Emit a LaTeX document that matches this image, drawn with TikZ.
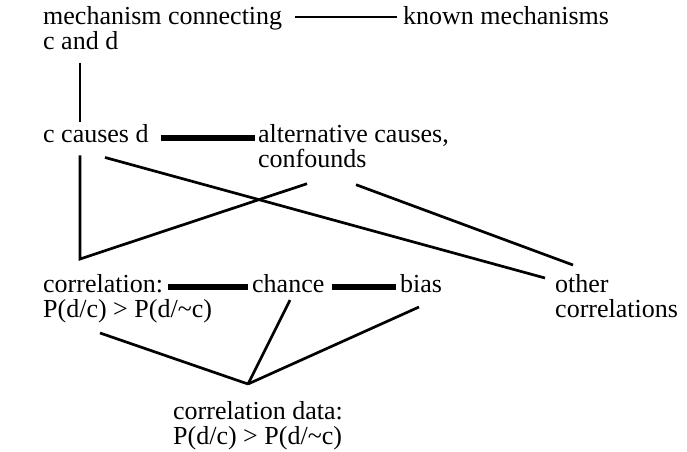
\documentclass[tikz,border=0pt]{standalone}
\usepackage{fontspec}
\setmainfont{Liberation Serif}

\begin{document}
\begin{tikzpicture}[x=1pt, y=-1pt,
  txt/.style={inner sep=0pt, font=\fontsize{26}{25}\selectfont},
  multi/.style={txt, align=left, anchor=north west},
  one/.style={txt, anchor=base west},
  link/.style={line width=2.7pt},
  bar/.style={line width=6pt},
  thinlink/.style={line width=1.4pt}]

  \useasboundingbox (0,0) rectangle (687,451);

  % Mechanisms
  \node[multi] (mech) at (43,6) {mechanism connecting\\c and d};
  \node[one] (known) at (403,24) {known mechanisms};

  % Causes
  \node[one] (ccause) at (43,142) {c causes d};
  \node[multi] (alt) at (258,124) {alternative causes,\\confounds};

  % Correlations
  \node[multi] (corr) at (43,274) {correlation:\\P(d/c) > P(d/\textasciitilde c)};
  \node[one] (chance) at (252,292) {chance};
  \node[one] (bias) at (400,292) {bias};
  \node[multi] (other) at (555,274) {other\\correlations};

  % Data
  \node[multi] (cdata) at (173,401) {correlation data:\\P(d/c) > P(d/\textasciitilde c)};
  \coordinate (meet) at ([xshift=75pt,yshift=17pt]cdata.north west);

  % Horizontal links
  \draw[thinlink] ([xshift=13pt,yshift=7pt]mech.north east |- known.base west) -- ([xshift=-6pt,yshift=7pt]known.base west);
  \draw[bar] ([xshift=12pt,yshift=4pt]ccause.base east) -- ([xshift=-3pt,yshift=4pt]ccause.base east -| alt.west);
  \draw[bar] ([xshift=125pt,yshift=5pt]corr.north west |- chance.base west) -- ([xshift=-4pt,yshift=5pt]chance.base west);
  \draw[bar] ([xshift=7pt,yshift=5pt]chance.base east) -- ([xshift=-4pt,yshift=5pt]bias.base west);

  % Upper connections
  \draw[link] ([xshift=37pt,yshift=-13pt]mech.south west) -- ([xshift=37pt,yshift=2pt]ccause.north west);
  \draw[link] ([xshift=37pt,yshift=-13pt]ccause.south west) -- ([xshift=37pt,yshift=15pt]corr.north west) -- ([xshift=49pt,yshift=-16pt]alt.south west);
  \draw[link] ([xshift=62pt,yshift=-15pt]ccause.south west) -- ([xshift=-10pt,yshift=-4pt]other.north west);
  \draw[link] ([xshift=98pt,yshift=-17pt]alt.south west) -- ([xshift=18pt,yshift=9pt]other.north west);

  % Lower connections
  \draw[link] ([xshift=57pt,yshift=-10pt]corr.south west) -- (meet);
  \draw[link] ([xshift=38pt,yshift=-8pt]chance.base west) -- (meet);
  \draw[link] ([xshift=19pt,yshift=-15pt]bias.base west) -- (meet);

\end{tikzpicture}
\end{document}
